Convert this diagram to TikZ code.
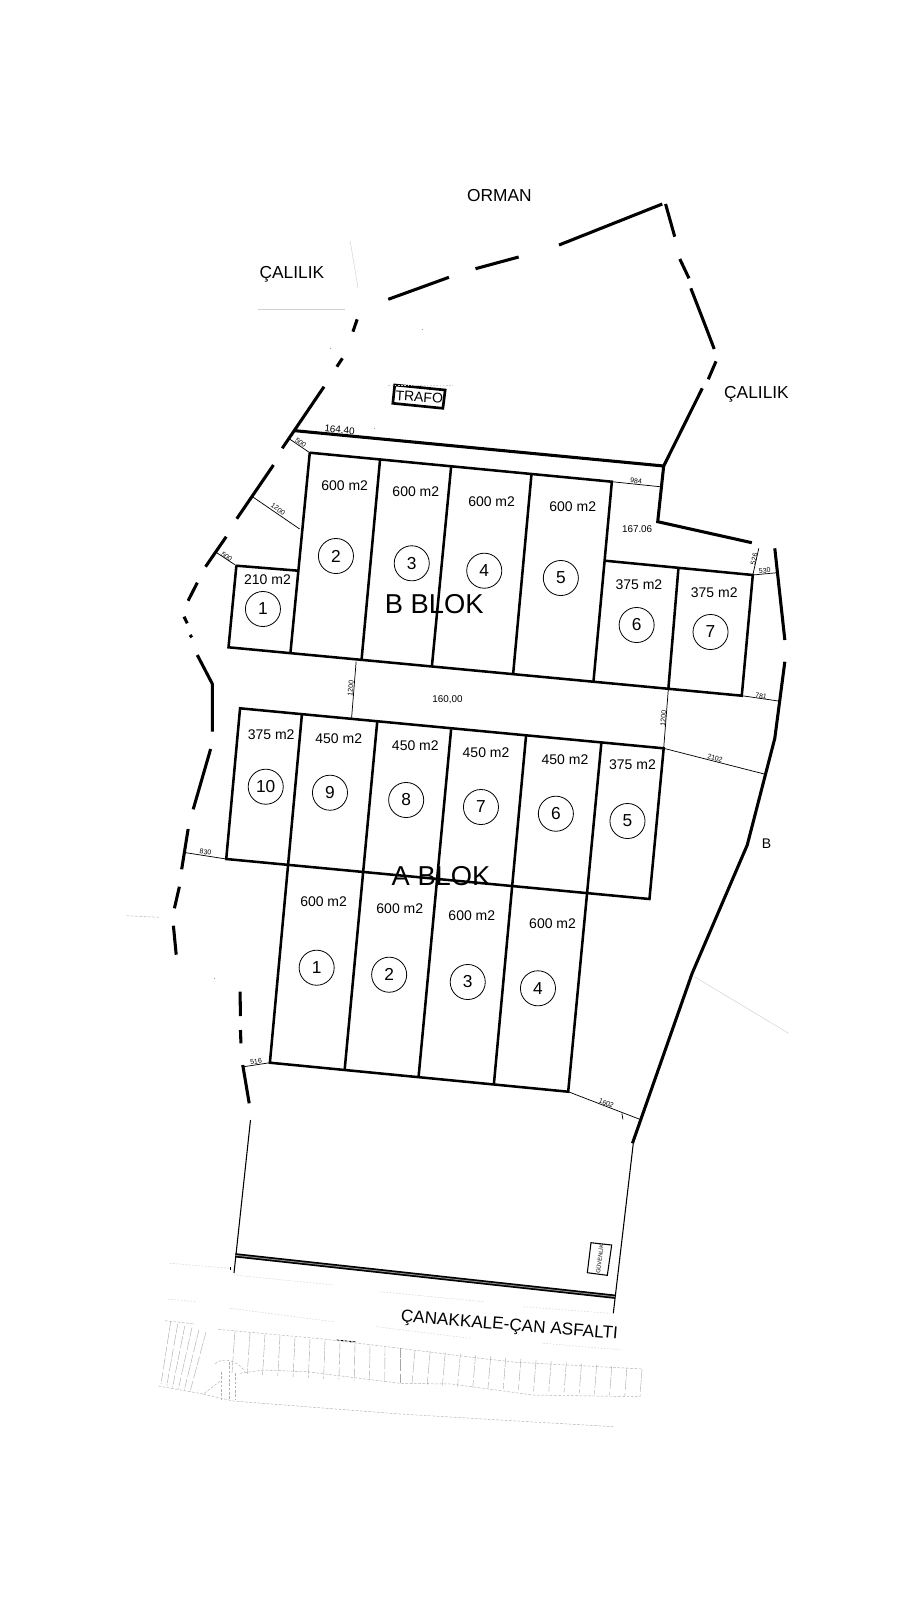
\documentclass[tikz,border=0pt]{standalone}
\usepackage{fontspec}
\setmainfont{Liberation Sans}
\usetikzlibrary{calc}
\newcommand{\fs}[1]{\fontsize{#1}{#1}\selectfont}
\tikzset{
  bound/.style={line width=2.3pt,line cap=butt,line join=miter},
  lotline/.style={line width=1.9pt,line cap=butt,line join=miter},
  thinl/.style={line width=0.55pt},
  faint/.style={line width=0.35pt,draw=black!18},
  faintd/.style={line width=0.35pt,draw=black!30,dash pattern=on 2pt off 1.2pt},
  faintr/.style={line width=0.35pt,draw=black!18,dash pattern=on 1.2pt off 1.2pt},
  fence/.style={line width=0.3pt,draw=black!35,dash pattern=on 7pt off 1pt on 9pt off 2pt},
  speck/.style={line width=0.4pt,draw=black!40},
  area/.style={inner sep=0pt,font=\fs{10.5pt}},
  dimt/.style={inner sep=0pt,font=\fs{5.2pt}},
  dimb/.style={inner sep=0pt,font=\fs{7.4pt}},
  lab/.style={inner sep=0pt,font=\fs{13pt}},
  blok/.style={inner sep=0pt,font=\fs{20.5pt}},
  num/.style={circle,draw,line width=0.6pt,minimum size=26.3pt,inner sep=0pt,font=\fs{13pt}}
}
\begin{document}
\begin{tikzpicture}[x=0.75pt,y=-0.75pt]
\useasboundingbox (0,0) rectangle (914,1600);
\fill[white] (0,0) rectangle (914,1600);
\begin{scope}[xshift=0.405pt,x=0.746pt]
% outer boundary dashes
\draw[bound] (389.8,299.3)--(450.8,277.3);
\draw[bound] (477.5,268.7)--(520.9,257);
\draw[bound] (561.5,245)--(665.3,204);
\draw[bound] (668.6,204)--(677.8,236.7);
\draw[bound] (682.9,259)--(692.1,278.3);
\draw[bound] (694,288.3)--(708.3,325)--(717.5,349);
\draw[bound] (719.3,361.3)--(711.5,379.3);
\draw[bound] (705.5,388.3)--(666.7,466)--(660.7,521.7)--(755.3,542.7);
\draw[bound] (778.4,548.3)--(788.5,640);
\draw[bound] (788.5,661.7)--(778.4,738.3)--(750.7,845)--(695.3,973.3)--(635.3,1143.3);
\draw[bound] (296.1,430.7)--(666.7,466);
\draw[bound] (358.5,319.3)--(354.3,331.7);
\draw[bound] (343.7,358.3)--(338.1,366.7);
\draw[bound] (325.2,386.7)--(283.2,448.3);
\draw[bound] (274.4,465)--(237.5,518.7);
\draw[bound] (226.9,536.7)--(206.1,566.7);
\draw[bound] (197.8,582.7)--(188.6,600.7);
\draw[bound] (184.5,616.7)--(187.7,623.3);
\draw[bound] (190.5,635)--(192.3,637.3);
\draw[bound] (197.8,655)--(213,684)--(213,731.7);
\draw[bound] (211.2,749)--(193.7,809.3);
\draw[bound] (188.6,829)--(182.1,869.3);
\draw[bound] (179.8,886.7)--(174.8,908.3);
\draw[bound] (173.8,925.7)--(176.6,954.7);
\draw[bound] (240.8,991.7)--(241.2,1016);
\draw[bound] (241.2,1030)--(241.7,1043.3);
\draw[bound] (243.5,1065)--(250,1103.3);
% B block
\draw[lotline] (310.9,452.7)--(614.6,481.7)--(596.1,681.7);
\draw[lotline] (310.9,452.7)--(291.5,652.3);
\draw[lotline] (237.1,565.7)--(299.4,570.7);
\draw[lotline] (237.1,565.7)--(229.2,647.3)--(745.2,695.7)--(756.3,575)--(607.7,560.7);
\draw[lotline] (381.5,460)--(363,659.3);
\draw[lotline] (453,466.7)--(433.7,666);
\draw[lotline] (533.8,474)--(515.4,673.3);
\draw[lotline] (681.5,568.3)--(671.3,690);
% A block
\draw[lotline] (240.8,708.3)--(666.7,748.3)--(652.4,899)--(226.9,859)--cycle;
\draw[lotline] (303,714.3)--(270.8,1062.7)--(570.7,1091.7)--(604,743.3);
\draw[lotline] (378.7,721.7)--(346,1069.3);
\draw[lotline] (453,729.3)--(420.3,1076.7);
\draw[lotline] (528.3,736)--(496,1084);
% trafo
\draw[line width=2pt] (396.3,385)--(447,390)--(444.7,408.3)--(394.4,403.3)--cycle;
\node[inner sep=0pt,font=\fs{10.5pt},rotate=-4] at (421,397) {TRAFO};
% thin dims
\draw[thinl] (291,439.3)--(310.9,452.7);
\draw[thinl] (253.3,496.7)--(300.7,529);
\draw[thinl] (217.3,552.7)--(237.1,565.7);
\draw[thinl] (614.6,481.7)--(663,486.7);
\draw[thinl] (762.3,548.3)--(756.3,575)--(780.7,572.7);
\draw[thinl] (357.5,661.7)--(352.9,718.3);
\draw[thinl] (745.2,695.7)--(782,701);
\draw[thinl] (671.3,690)--(666.7,748.3);
\draw[thinl] (666.7,748.3)--(767.8,774);
\draw[thinl] (186.3,852.7)--(226.9,859);
\draw[thinl] (244.5,1066.7)--(270.8,1062.7);
\draw[thinl] (570.7,1091.7)--(644.5,1120);
\draw[thinl] (624.7,1113.3)--(625.7,1119.3);
% faint
\draw[faint] (351.5,240.7)--(359.4,288.3);
\draw[faint] (259.2,309.3)--(346,309.3);
\draw[faint] (697.6,976.7)--(792.3,1033.3);
\draw[faintd] (126.8,915.7)--(160,917.3);
\draw[speck] (423.5,329)--(424.2,329) (376,427.5)--(376,428.2) (330.8,348.3)--(331.5,348.3) (215,978)--(216,978);
\draw[faintr] (390,385)--(455,385);
% dim texts
\node[dimb,rotate=-5.5] at (340.9,430) {164.40};
\node[dimb] at (640,529.3) {167.06};
\node[dimb] at (449.3,699.3) {160,00};
\node[dimt,rotate=-36] at (301.7,442.7) {500};
\node[dimt,rotate=-36] at (279,509.3) {1200};
\node[dimt,rotate=-36] at (227.3,556.7) {500};
\node[dimt,rotate=-6] at (639,481) {984};
\node[dimt,rotate=77] at (757.6,559.3) {526};
\node[dimt,rotate=5] at (768.3,570.7) {530};
\node[dimt,rotate=85] at (352,688.3) {1200};
\node[dimt,rotate=-8] at (764.6,696) {781};
\node[dimt,rotate=85] at (666.3,718.3) {1200};
\node[dimt,rotate=-15] at (718.4,757.7) {2102};
\node[dimt,rotate=-8] at (206.1,852) {830};
\node[dimt,rotate=8] at (256.9,1061.7) {516};
\node[dimt,rotate=-22] at (609,1103.3) {1602};
% labels
\node[lab] at (501.5,196) {ORMAN};
\node[lab] at (292.9,274.3) {ÇALILIK};
\node[lab] at (760,394) {ÇALILIK};
\node[inner sep=0pt,font=\fs{10.5pt}] at (770,844) {B};
\node[blok] at (436,604.3) {B BLOK};
\node[blok] at (442.9,876) {A BLOK};
% area texts
\node[area] at (346,485.3) {600 m2};
\node[area] at (417.5,492) {600 m2};
\node[area] at (493.7,501.3) {600 m2};
\node[area] at (575.3,507) {600 m2};
\node[area] at (268.4,579.3) {210 m2};
\node[area] at (641.8,584.3) {375 m2};
\node[area] at (717.5,592.7) {375 m2};
\node[area] at (272.1,734.3) {375 m2};
\node[area] at (340,739) {450 m2};
\node[area] at (417,746) {450 m2};
\node[area] at (488.1,753) {450 m2};
\node[area] at (567.5,760) {450 m2};
\node[area] at (635.3,764.7) {375 m2};
\node[area] at (324.8,901.7) {600 m2};
\node[area] at (401.4,909) {600 m2};
\node[area] at (473.8,916) {600 m2};
\node[area] at (555,923.3) {600 m2};
% circles
\node[num] (b1) at (263.8,609) {1};
\node[num] (b2) at (337.2,556) {2};
\node[num] (b3) at (413.4,563.3) {3};
\node[num] (b4) at (486.3,570.7) {4};
\node[num] (b5) at (563.3,578) {5};
\node[num] (b6) at (639.5,625) {6};
\node[num] (b7) at (713.8,632) {7};
\node[num] (a10) at (266.6,786.7) {10};
\node[num] (a9) at (331.2,792.7) {9};
\node[num] (a8) at (407.8,800) {8};
\node[num] (a7) at (483,807) {7};
\node[num] (a6) at (558.3,813.7) {6};
\node[num] (a5) at (630.3,821) {5};
\node[num] (a1) at (317.8,967.7) {1};
\node[num] (a2) at (390.7,974.7) {2};
\node[num] (a3) at (469.7,982) {3};
\node[num] (a4) at (540.3,988.3) {4};
\end{scope}
% south part, uniform scale
\draw[line width=0.8pt] (250.5,1120)--(234,1273);
\draw[line width=0.8pt] (633.3,1143.3)--(613.3,1313.3);
\draw[line width=3.2pt] (235.3,1255.3)--(615,1296.7);
\draw[black!45,line width=0.7pt] (235.3,1255.3)--(615,1296.7);
\draw[line width=0.8pt] (591,1242.7)--(611.7,1245)--(607.3,1275.3)--(587.3,1272.7)--cycle;
\node[inner sep=0pt,font=\fs{4.3pt},rotate=83] at (599.5,1259) {GÜVENLİK};
\node[inner sep=0pt,font=\fs{12.9pt},rotate=-4.7] at (509.3,1326) {ÇANAKKALE-ÇAN ASFALTI};
\draw[line width=0.6pt] (230,1267)--(230,1270);
\draw[line width=0.6pt,dash pattern=on 2pt off 1pt] (336.7,1340)--(356.7,1342);
% faint road edges
\draw[faintr] (170,1263.3)--(230,1268.3) (233.3,1275)--(333.3,1285) (380,1291.7)--(483.3,1301.7) (523.3,1306.7)--(610,1313.3);
\draw[faintr] (168.3,1299.3)--(196.7,1301.7) (230,1308.3)--(333.3,1321.7) (376.7,1326.7)--(470,1338.3) (543.3,1343.3)--(623.3,1350);
% fence
\draw[faintd] (165,1320.7)--(195,1324) (218.3,1329.3)--(323.3,1339)--(400,1348.3)--(480,1358.3)--(516.7,1362.3)--(643,1369);
\draw[faintd] (158.3,1386)--(203.3,1394)--(221.7,1380) (203.3,1394)--(233.3,1401)--(400,1414)--(613.3,1426.7);
\draw[faintd] (240,1373.3)--(263.3,1370)--(306.7,1371.7)--(400,1383.3)--(451.7,1384)--(533,1395)--(640,1396.7);
\coordinate (ta) at (170.7,1321.7); \coordinate (tb) at (206,1332);
\coordinate (ba) at (161,1384); \coordinate (bb) at (190,1392);
\foreach \i in {0,...,5}{\draw[fence] ($(ta)!\i/5!(tb)$)--($(ba)!\i/5!(bb)$);}
\coordinate (tc) at (235,1331); \coordinate (td) at (400,1348.3);
\coordinate (bc) at (232,1373); \coordinate (bd) at (400,1383.3);
\foreach \i in {0,...,11}{\draw[fence] ($(tc)!\i/11!(td)$)--($(bc)!\i/11!(bd)$);}
\coordinate (te) at (415,1350); \coordinate (tf) at (642,1369);
\coordinate (be) at (412,1384); \coordinate (bf) at (640,1396.7);
\foreach \i in {0,...,15}{\draw[fence] ($(te)!\i/15!(tf)$)--($(be)!\i/15!(bf)$);}
% tree
\draw[faintd] (215,1364) .. controls (220,1358) and (236,1358) .. (245,1371.7);
\draw[faintd] (221,1372)--(221,1400) (229.3,1362)--(229.3,1400) (235,1373)--(235,1400);
\end{tikzpicture}
\end{document}
